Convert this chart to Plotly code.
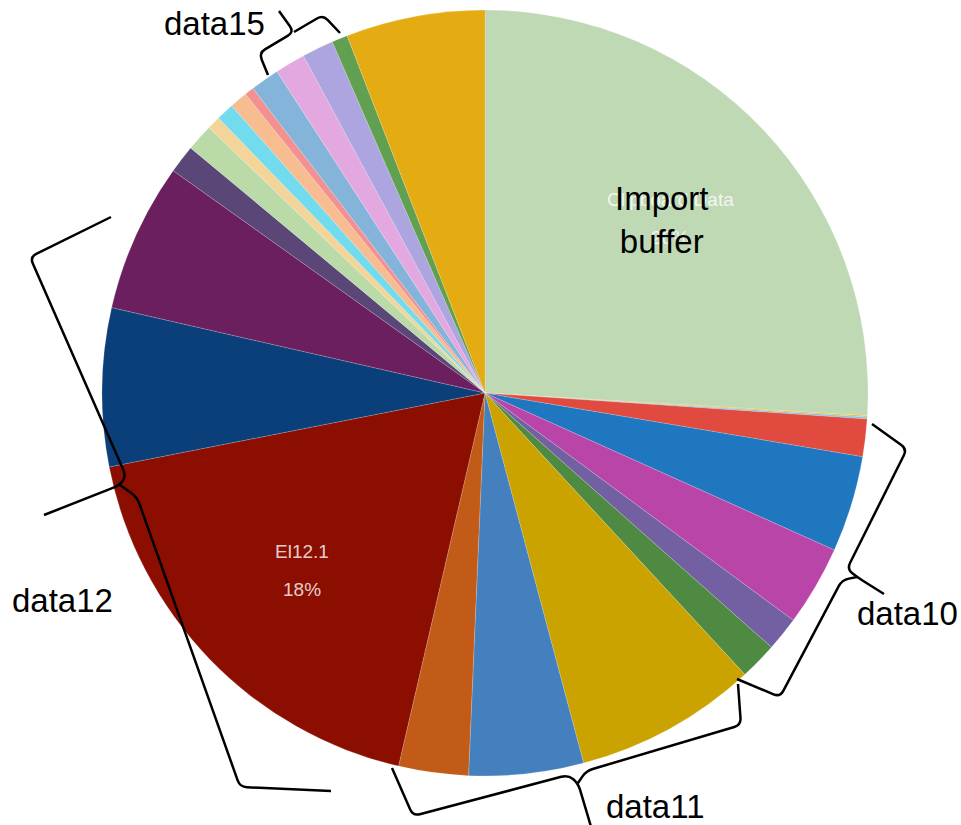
import math
import plotly.graph_objects as go

# ---------------- data ----------------
labels = [
    "Clipboard Data", "El1.2", "El1.3",
    "El10.1", "El10.2", "El10.3", "El10.4", "El10.5",
    "El11.1", "El11.2", "El11.3",
    "El12.1", "El12.2", "El12.3",
    "El13.1", "El13.2", "El13.3", "El14.1", "El14.2", "El14.3",
    "El15.1", "El15.2", "El15.3",
    "El16.1", "El16.2",
]
values = [
    25.94, 0.06, 0.08,
    1.58, 4.06, 3.39, 1.44, 1.58,
    7.72, 4.83, 2.94,
    18.28, 6.67, 6.28,
    1.19, 1.14, 0.56, 0.75, 0.75, 0.39,
    1.22, 1.28, 1.33,
    0.67, 5.86,
]
colors = [
    "#bfd9b5", "#f2b61f", "#7fc6e6",
    "#e04a3f", "#1f77c0", "#ba45a8", "#7260a3", "#4e8a41",
    "#cba301", "#4380bd", "#c25b18",
    "#8b0e01", "#0b3f79", "#6c1f5f",
    "#5a4677", "#badba8", "#f4d599", "#72dbee", "#f7bc90", "#f2918f",
    "#84b4d9", "#e4a8e0", "#aca5df",
    "#61a050", "#e5ab13",
]
labelled_slices = ["Clipboard Data", "El12.1"]
groups = {  # brace label -> slice labels covered
    "data10": ["El10.1", "El10.2", "El10.3", "El10.4", "El10.5"],
    "data11": ["El11.1", "El11.2", "El11.3"],
    "data12": ["El12.1", "El12.2", "El12.3"],
    "data15": ["El15.1", "El15.2", "El15.3"],
}
overlay_text = "Import<br>buffer"

# ---------------- layout geometry ----------------
W, H = 961, 825
CX, CY, R = 485, 393, 383
FONT = "Liberation Sans, Arial, Helvetica, sans-serif"


def px(x, y):
    return x / W, 1 - y / H


total = sum(values)


def mid_angle(i):
    start = sum(values[:i]) / total * 360
    return start + values[i] / total * 180


def polar(angle_deg, frac):
    a = math.radians(angle_deg)
    return CX + frac * R * math.sin(a), CY - frac * R * math.cos(a)


fig = go.Figure(go.Pie(
    labels=labels, values=values, sort=False, direction="clockwise", rotation=0,
    marker=dict(colors=colors, line=dict(color="rgba(255,255,255,0.35)", width=0.5)),
    textinfo="none", showlegend=False, hoverinfo="label+percent",
    domain=dict(x=[(CX - R) / W, (CX + R) / W], y=[(H - CY - R) / H, (H - CY + R) / H]),
))

annotations = []


def note(x, y, text, size, color, yshift=0):
    ax, ay = px(x, y)
    annotations.append(dict(x=ax, y=ay, xref="paper", yref="paper", text=text,
                            xanchor="center", yanchor="middle",
                            showarrow=False, yshift=yshift,
                            font=dict(family=FONT, size=size, color=color)))


for name in labelled_slices:
    i = labels.index(name)
    x, y = polar(mid_angle(i), 0.665)
    pct = f"{round(values[i] / total * 100)}%"
    note(x, y, name, 19, "rgba(255,255,255,0.8)", 19)
    note(x, y, pct, 19, "rgba(255,255,255,0.8)", -19)

# "Import buffer" overlay on the first slice
ox, oy = polar(mid_angle(0), 0.66)
note(ox - 7, oy, overlay_text, 33, "black")

# brace decorations (pixel points) and their labels
braces = {
    "data10": dict(pts=[(872, 424), (907, 449), (847, 569), (857, 577), (884, 594)],
                   low=[(857, 577), (842, 580), (780, 697), (737, 679)], lab=(907, 613)),
    "data11": dict(pts=[(392, 768), (413, 816), (568, 775), (578, 783), (592, 830)],
                   low=[(578, 783), (586, 771), (741, 725), (738, 684)], lab=(655, 806)),
    "data12": dict(pts=[(111, 217), (30, 257), (126, 476), (120, 485), (44, 515)],
                   low=[(120, 485), (137, 497), (240, 787), (331, 791)], lab=(62, 600)),
    "data15": dict(pts=[(268, 75), (259, 53), (294, 32), (279, 11)],
                   low=[(294, 32), (323, 15), (340, 33)], lab=(214, 24)),
}
shapes = []


def seg(points, d=7.0):
    """Polyline with rounded interior corners (quadratic curves)."""
    def f(q):
        a, c = px(*q)
        return f"{a:.5f},{c:.5f}"
    out = "M " + f(points[0])
    for k in range(1, len(points) - 1):
        p0, p1, p2 = points[k - 1], points[k], points[k + 1]
        l1 = math.dist(p0, p1)
        l2 = math.dist(p1, p2)
        d1 = min(d, l1 / 2)
        d2 = min(d, l2 / 2)
        a = (p1[0] - (p1[0] - p0[0]) * d1 / l1, p1[1] - (p1[1] - p0[1]) * d1 / l1)
        b = (p1[0] + (p2[0] - p1[0]) * d2 / l2, p1[1] + (p2[1] - p1[1]) * d2 / l2)
        out += " L " + f(a) + " Q " + f(p1) + " " + f(b)
    out += " L " + f(points[-1])
    return out


for name, b in braces.items():
    shapes.append(dict(type="path", xref="paper", yref="paper",
                       path=seg(b["pts"]) + " " + seg(b["low"]),
                       line=dict(color="black", width=2.5)))
    note(b["lab"][0], b["lab"][1], name, 33, "black")

fig.update_layout(
    width=W, height=H, margin=dict(l=0, r=0, t=0, b=0),
    paper_bgcolor="white", plot_bgcolor="white",
    annotations=annotations, shapes=shapes,
)
fig.write_html("out.html")
